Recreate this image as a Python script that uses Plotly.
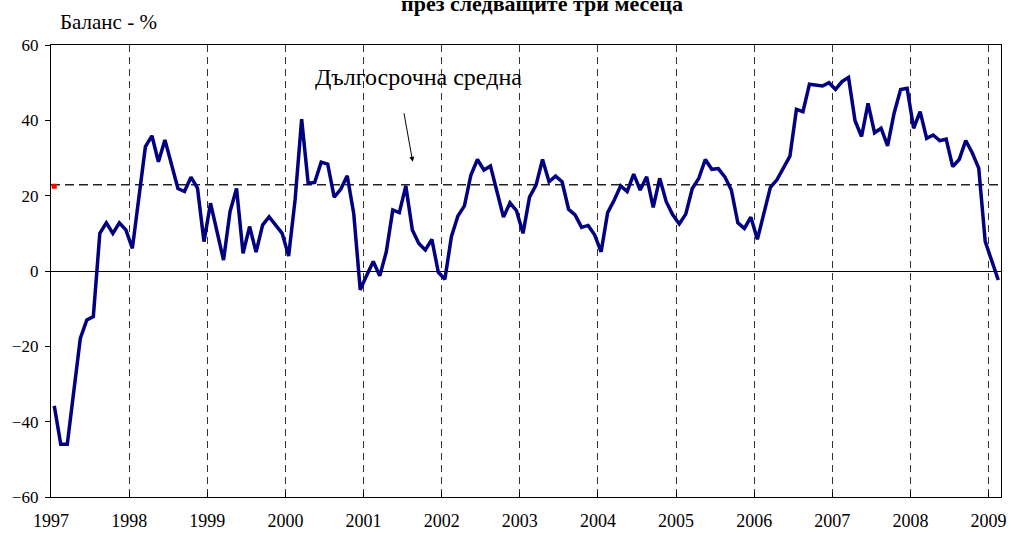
import plotly.graph_objects as go

# Баланс на отговорите, месечни данни 01.1997 - 02.2009
start_year = 1997
balance = [
    -35.8, -46.0, -46.0, -31.0, -17.9, -13.0, -12.1, 10.0, 12.8, 10.0, 12.8, 10.9,   # 1997
    6.0, 19.5, 33.0, 35.9, 29.0, 34.8, 28.6, 21.9, 21.1, 24.9, 22.0, 7.8,            # 1998
    18.0, 10.9, 2.9, 15.8, 21.9, 4.7, 11.8, 5.0, 12.2, 14.4, 12.2, 10.0,             # 1999
    4.0, 19.0, 40.3, 23.3, 23.5, 28.9, 28.4, 19.6, 21.7, 25.3, 15.3, -5.0,           # 2000
    -1.1, 2.5, -1.3, 5.1, 16.2, 15.5, 22.6, 10.9, 7.3, 5.6, 8.4, -0.4,               # 2001
    -2.2, 9.1, 14.6, 17.3, 25.5, 29.6, 26.8, 27.9, 21.1, 14.3, 18.1, 16.0,           # 2002
    10.0, 19.6, 22.8, 29.6, 23.7, 25.2, 23.7, 16.4, 14.9, 11.6, 12.1, 9.6,           # 2003
    5.1, 15.5, 18.8, 22.6, 21.1, 25.7, 21.5, 25.0, 16.9, 24.6, 18.4, 14.9,           # 2004
    12.5, 15.1, 21.9, 24.6, 29.6, 27.0, 27.2, 25.0, 21.5, 12.8, 11.3, 14.3,          # 2005
    8.4, 15.8, 22.2, 24.2, 27.5, 30.5, 42.9, 42.3, 49.6, 49.4, 49.1, 50.0,           # 2006
    48.2, 50.3, 51.4, 39.9, 35.7, 44.5, 36.7, 37.9, 33.2, 41.9, 48.2, 48.5,          # 2007
    37.9, 42.3, 35.2, 36.1, 34.6, 35.0, 27.7, 29.6, 34.6, 31.4, 27.3, 7.8,           # 2008
    2.9, -2.4,                                                                      # 2009
]
long_term_avg = 22.9
years = list(range(1997, 2010))

# точките са в средата на месеца
months = [start_year + (i + 0.5) / 12 for i in range(len(balance))]

FONT = "Liberation Serif, Times New Roman, serif"

fig = go.Figure()

fig.add_trace(go.Scatter(
    x=months, y=balance, mode="lines",
    line=dict(color="#000080", width=3.5),
    showlegend=False, hoverinfo="x+y",
))

# червен маркер за дългосрочната средна
fig.add_trace(go.Scatter(
    x=[months[0]], y=[long_term_avg - 0.4], mode="markers",
    marker=dict(symbol="square", color="red", size=5),
    showlegend=False, cliponaxis=False,
))

# дългосрочна средна - пунктир
fig.add_shape(
    type="line", xref="paper", x0=0, x1=1, yref="y", y0=long_term_avg, y1=long_term_avg,
    line=dict(color="#222222", width=1.3, dash="9px,5px"), layer="below",
)

# стрелка към средната
fig.add_annotation(
    x=2001.63, y=29.0, xref="x", yref="y", text="", showarrow=True,
    ax=-9, ay=-50, arrowhead=2, arrowsize=1, arrowwidth=1, arrowcolor="black",
)
fig.add_annotation(
    x=(418 - 51) / 950, y=(497 - 77) / 452, xref="paper", yref="paper",
    text="Дългосрочна средна", showarrow=False, yanchor="middle", xanchor="center",
    font=dict(family=FONT, size=24, color="black"),
)

fig.add_annotation(
    x=(58 - 51) / 950, y=1 + 23 / 452, xref="paper", yref="paper",
    text="Баланс - %", showarrow=False, xanchor="left", yanchor="middle",
    font=dict(family=FONT, size=21, color="black"),
)
fig.add_annotation(
    x=(542 - 51) / 950, y=1 + 27 / 452, xref="paper", yref="paper",
    text="<b>през следващите три месеца</b>", showarrow=False, yanchor="bottom",
    font=dict(family=FONT, size=22, color="black"),
)

fig.update_xaxes(
    range=[1997, 2009.16], tickvals=years, ticktext=[str(y) for y in years],
    showgrid=True, gridcolor="#333333", gridwidth=1, griddash="7px,5px",
    showline=True, linecolor="black", linewidth=1.3, mirror=True,
    ticks="inside", ticklen=5, tickcolor="black",
    zeroline=False, ticklabelstandoff=7, automargin=False,
    tickfont=dict(family=FONT, size=18, color="black"),
)
fig.update_yaxes(
    range=[-60, 60], dtick=20, showgrid=False,
    zeroline=True, zerolinecolor="black", zerolinewidth=1.3,
    showline=True, linecolor="black", linewidth=1.3, mirror=True,
    ticks="outside", ticklen=5, tickcolor="black",
    ticklabelstandoff=3, automargin=False,
    tickfont=dict(family=FONT, size=17, color="black"),
)

fig.update_layout(
    width=1011, height=533,
    margin=dict(l=51, r=10, t=45, b=36),
    plot_bgcolor="white", paper_bgcolor="white",
    font=dict(family=FONT, color="black"),
)

fig.write_html("out.html", config={"displayModeBar": False},
               post_script="document.body.style.margin='0';")
